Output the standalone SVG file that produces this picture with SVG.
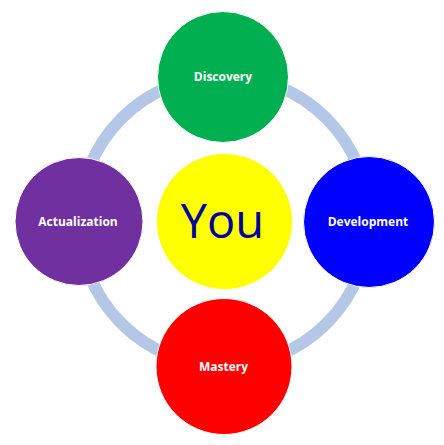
<svg xmlns="http://www.w3.org/2000/svg" width="444" height="445" viewBox="0 0 444 445">
<style>
.lbl{font-family:"Open Sans","Noto Sans",sans-serif;font-weight:bold;font-size:12px;fill:#ffffff;text-anchor:middle;dominant-baseline:central}
.you{font-family:"Open Sans","Noto Sans",sans-serif;font-size:47px;fill:#0000a0;text-anchor:middle}
.c{stroke:#ffffff;stroke-width:1}
</style>
<rect width="444" height="445" fill="#ffffff"/>
<g id="connectors">
<circle cx="224" cy="221" r="145" fill="none" stroke="#b4c7e7" stroke-width="12"/>
</g>
<g id="you">
<circle class="c" cx="224.5" cy="221.5" r="68" fill="#ffff00"/>
<text class="you" x="222.5" y="238">You</text>
</g>
<g id="discovery">
<circle class="c" cx="223" cy="77" r="65.5" fill="#00b050"/>
<text class="lbl" x="223" y="76">Discovery</text>
</g>
<g id="development">
<circle class="c" cx="369" cy="222" r="65.5" fill="#0000ff"/>
<text class="lbl" x="368" y="221">Development</text>
</g>
<g id="actualization">
<circle class="c" cx="79" cy="221.5" r="64" fill="#7030a0"/>
<text class="lbl" x="78" y="221">Actualization</text>
</g>
<g id="mastery">
<circle class="c" cx="224" cy="366.5" r="68" fill="#ff0000"/>
<text class="lbl" x="223.5" y="366">Mastery</text>
</g>
</svg>
